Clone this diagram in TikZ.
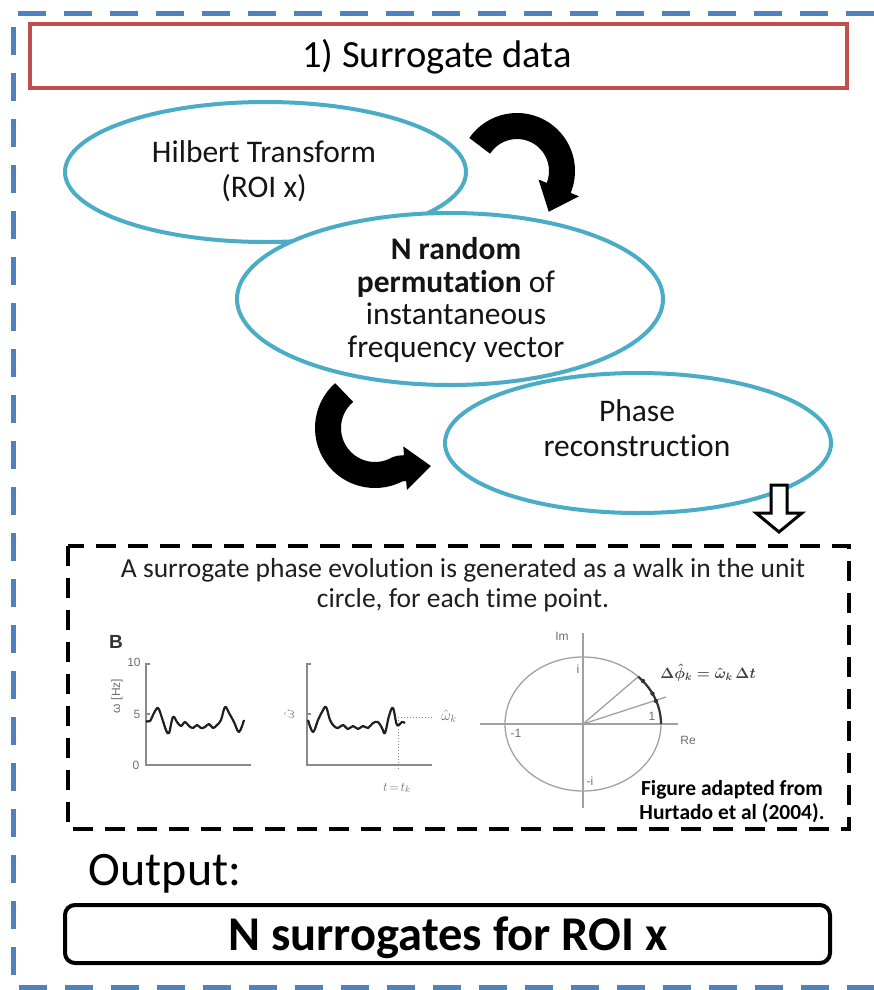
\RequirePackage{fix-cm}
\documentclass[tikz,border=0pt]{standalone}
\usepackage{fontspec}
\setmainfont{Carlito}[Ligatures=NoCommon]
\newfontfamily\plotfont{Liberation Sans}
\usetikzlibrary{shapes.geometric,arrows.meta}
\definecolor{frameblue}{HTML}{4F81BD}
\definecolor{boxred}{HTML}{C0504D}
\definecolor{ellblue}{HTML}{4BACC6}
\definecolor{plotgray}{HTML}{6E6E6E}
\definecolor{axisgray}{HTML}{8A8A8A}
\tikzset{
 outerframe/.style={draw=frameblue, line width=5pt, dash pattern=on 28pt off 18pt},
 titlebox/.style={draw=boxred, line width=4pt, minimum width=817pt, minimum height=64pt, inner sep=0pt},
 ellbox/.style={ellipse, draw=ellblue, line width=4pt, fill=white, inner sep=0pt},
 elltext/.style={anchor=base, inner sep=0pt, font=\fontsize{31.5}{34}\selectfont, text=black!92},
 bigarrow/.style={line width=26pt, -{Triangle[width=42pt,length=26pt]}, line join=round},
 blockarrow/.style={draw=black, line width=3pt, fill=white, line join=miter},
 figbox/.style={draw=black, line width=4pt, dash pattern=on 20pt off 12pt},
 boxtext/.style={anchor=base, inner sep=0pt, font=\fontsize{27.5}{30}\selectfont, text=black!88},
 plotaxis/.style={draw=axisgray, line width=1.5pt},
 signal/.style={draw=black!88, line width=2.2pt, line join=round},
 guide/.style={draw=axisgray, line width=1pt, dotted},
 plotlab/.style={text=plotgray, font=\plotfont\fontsize{12}{13}\selectfont, inner sep=0pt},
 circline/.style={draw=axisgray!80, line width=1.3pt},
 credit/.style={anchor=base, inner sep=0pt, font=\bfseries\fontsize{21.5}{24}\selectfont},
 outbox/.style={draw=black, line width=4pt, rounded corners=10pt, minimum width=765pt, minimum height=58pt, inner sep=0pt},
}
\begin{document}
\begin{tikzpicture}[x=1pt,y=-1pt]
\useasboundingbox (0,0) rectangle (874,990);
% outer blue dashed frame
\draw[outerframe] (874,14) -- (13,14) -- (13,987) -- (874,987);
% title
\node[titlebox] (title) at (438.5,56) {};
\node[anchor=base, inner sep=0pt, font=\fontsize{38.5}{42}\selectfont] (titletext) at (437,67) {1) Surrogate data};
% ellipses
\node[ellbox, minimum width=401pt, minimum height=140pt] (hil) at (265.5,172) {};
\node[elltext] (hil1) at (264,162) {Hilbert Transform};
\node[elltext] (hil2) at (264,197) {(ROI x)};
\node[ellbox, minimum width=426pt, minimum height=172pt] (perm) at (450,299) {};
\node[elltext] (perm1) at (456,259) {\bfseries N random};
\node[elltext] (perm2) at (456,292) {{\bfseries permutation} of};
\node[elltext] (perm3) at (456,324) {instantaneous};
\node[elltext] (perm4) at (456,357) {frequency vector};
\node[ellbox, minimum width=386pt, minimum height=140pt] (phase) at (638,443) {};
\node[elltext] (phase1) at (637,421) {Phase};
\node[elltext] (phase2) at (637,456) {reconstruction};
% curved arrows
\coordinate (a1tail) at ([shift={(-146:45)}]517,171);
\coordinate (a1tip) at (548.7,211.9);
\draw[bigarrow] (a1tail) arc[start angle=-146, end angle=22, radius=45] -- (a1tip);
\coordinate (a2tail) at ([shift={(-131:47)}]375,428);
\coordinate (a2tip) at (431,466);
\draw[bigarrow] (a2tail) arc[start angle=-131, end angle=-300, radius=47] -- (a2tip);
% block arrow down
\draw[blockarrow] (771,485) -- (787,485) -- (787,513) -- (802,513) -- (779,532) -- (756,513) -- (771,513) -- cycle;
% dashed figure box
\draw[figbox] (68,546) rectangle (849,829);
\node[boxtext] (bt1) at (463,577) {A surrogate phase evolution is generated as a walk in the unit};
\node[boxtext] (bt2) at (463,607) {circle, for each time point.};
% panel B
\node[plotlab, font=\plotfont\bfseries\fontsize{19}{20}\selectfont, text=black!80] (lblB) at (116,642) {B};
\draw[plotaxis] (146,663) -- (146,765) -- (251,765);
\draw[plotaxis] (146,664) -- (150,664) (146,714) -- (150,714);
\node[plotlab] (t10) at (134,662) {10};
\node[plotlab] (t5) at (137,714) {5};
\node[plotlab] (t0) at (136,765) {0};
\node[plotlab, rotate=90] (ylab) at (117,696) {ω [Hz]};
\draw[signal] plot[smooth, tension=0.6] coordinates {(146,721) (150,721) (154,713) (158,708) (162,718) (166,730) (169,733) (173,717) (177,722) (181,726) (185,722) (189,726) (193,728) (197,725) (201,728) (205,727) (209,724) (213,728) (217,725) (221,720) (225,707) (229,713) (234,722) (239,732) (244,720)};
\draw[plotaxis] (307,663) -- (307,765) -- (432,765);
\draw[plotaxis] (307,664) -- (311,664) (307,714) -- (311,714);
\node[plotlab, rotate=90, font=\fontsize{14}{15}\selectfont] (ylab2) at (289,714) {$\hat\omega$};
\draw[signal] plot[smooth, tension=0.6] coordinates {(308,720) (313,732) (318,720) (322,712) (326,707) (330,720) (334,726) (338,728) (343,725) (348,729) (353,726) (358,729) (363,726) (368,728) (373,723) (378,722) (382,728) (385,733) (389,716) (393,708) (397,725) (402,722) (405,723)};
\draw[guide] (398,717) -- (432,717);
\draw[guide] (398,717) -- (398,770);
\node[plotlab, font=\fontsize{15}{16}\selectfont] (omk) at (449,716) {$\hat\omega_k$};
\node[plotlab, font=\fontsize{13}{14}\selectfont] (ttk) at (397,788) {$t\!=\!t_k$};
% unit circle
\draw[circline] (583,724) ellipse [x radius=78, y radius=67];
\draw[circline] (480,724) -- (678,724);
\draw[circline] (583,633) -- (583,808);
\draw[circline] (583,724) -- (639,676);
\draw[circline] (583,724) -- (666,697);
\draw[line width=2.2pt, black!80] ([shift={(-45:78 and 67)}]583,724) arc[start angle=-45, end angle=0, x radius=78, y radius=67];
\fill[black!80] (643,681) circle (2.2) (652.5,693.6) circle (2.2) (656,701) circle (2.2);
\node[plotlab] (im) at (562,636) {Im};
\node[plotlab] (ii) at (578,669) {i};
\node[plotlab] (m1) at (516,733) {-1};
\node[plotlab] (p1) at (652,716) {1};
\node[plotlab] (re) at (688,740) {Re};
\node[plotlab] (mi) at (590,781) {-i};
\node[inner sep=0pt, font=\fontsize{15}{17}\selectfont\boldmath, text=black!75] (formula) at (708,673) {$\Delta\hat{\phi}_k = \hat{\omega}_k\,\Delta t$};
\node[credit] (cr1) at (732,795) {Figure adapted from};
\node[credit] (cr2) at (732,819) {Hurtado et al (2004).};
% output
\node[anchor=base, inner sep=0pt, font=\fontsize{48}{52}\selectfont] (outlabel) at (165,885) {Output:};
\node[outbox] (outbox) at (447.5,934) {};
\node[anchor=base, inner sep=0pt, font=\bfseries\fontsize{48.5}{52}\selectfont] (outtext) at (448,950) {N surrogates for ROI x};
\end{tikzpicture}
\end{document}
